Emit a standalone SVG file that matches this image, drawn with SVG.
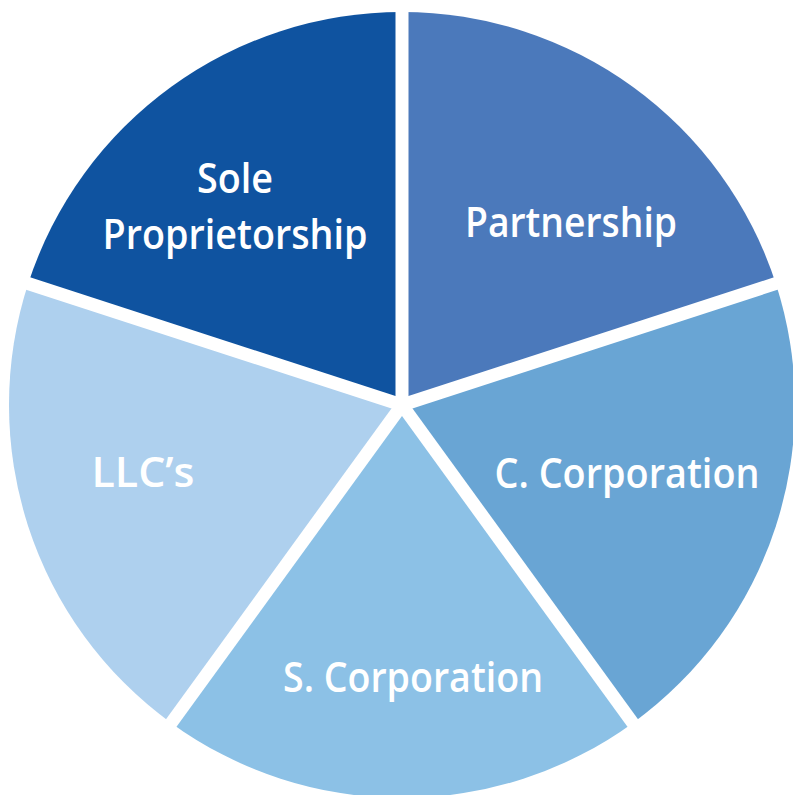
<svg xmlns="http://www.w3.org/2000/svg" width="793" height="795" viewBox="0 0 793 795">
<style>
.lbl{font-family:"Open Sans","Liberation Sans",sans-serif;font-weight:600;font-size:41px;fill:#ffffff;text-anchor:middle}
.sep{stroke:#ffffff;stroke-width:13;stroke-linecap:butt}
</style>
<rect width="793" height="795" fill="#ffffff"/>
<g id="partnership">
<path d="M402,405 L402,12 A393,393 0 0 1 775.8,283.6 Z" fill="#4b79bb"/>
<text class="lbl" x="571" y="237" textLength="212" lengthAdjust="spacingAndGlyphs">Partnership</text>
</g>
<g id="c-corporation">
<path d="M402,405 L775.8,283.6 A393,393 0 0 1 633,722.9 Z" fill="#69a5d4"/>
<text class="lbl" x="627" y="488" textLength="265" lengthAdjust="spacingAndGlyphs">C. Corporation</text>
</g>
<g id="s-corporation">
<path d="M402,405 L633,722.9 A393,393 0 0 1 171,722.9 Z" fill="#8cc1e6"/>
<text class="lbl" x="413" y="692" textLength="260" lengthAdjust="spacingAndGlyphs">S. Corporation</text>
</g>
<g id="llcs">
<path d="M402,405 L171,722.9 A393,393 0 0 1 28.2,283.6 Z" fill="#aed0ee"/>
<text class="lbl" x="143" y="487" textLength="103" lengthAdjust="spacingAndGlyphs">LLC’s</text>
</g>
<g id="sole-proprietorship">
<path d="M402,405 L28.2,283.6 A393,393 0 0 1 402,12 Z" fill="#0f53a0"/>
<text class="lbl" x="235" y="193" textLength="76" lengthAdjust="spacingAndGlyphs">Sole</text>
<text class="lbl" x="235" y="249" textLength="265" lengthAdjust="spacingAndGlyphs">Proprietorship</text>
</g>
<g id="separators">
<line class="sep" x1="402" y1="405" x2="402" y2="0"/>
<line class="sep" x1="402" y1="405" x2="799" y2="276"/>
<line class="sep" x1="402" y1="405" x2="648" y2="744"/>
<line class="sep" x1="402" y1="405" x2="156" y2="744"/>
<line class="sep" x1="402" y1="405" x2="5" y2="276"/>
</g>
</svg>
